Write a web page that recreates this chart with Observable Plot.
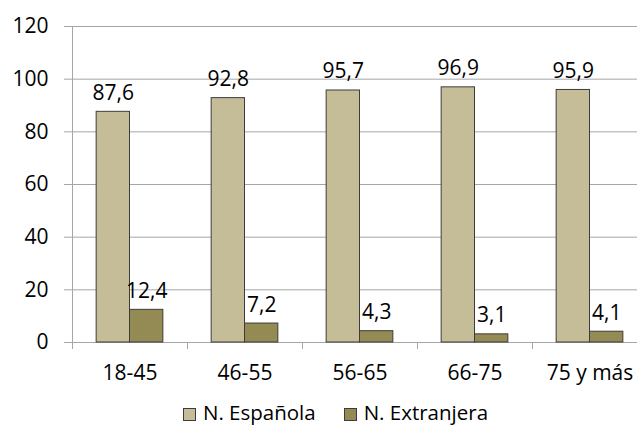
<!DOCTYPE html>
<html>
<head>
<meta charset="utf-8">
<script src="https://cdn.jsdelivr.net/npm/d3@7"></script>
<script src="https://cdn.jsdelivr.net/npm/@observablehq/plot@0.6"></script>
<style>
  html, body { margin: 0; padding: 0; background: #fff; overflow: hidden; }
  body { font-family: "Open Sans", sans-serif; color: #000; width: 637px; height: 425px; }
  .legend { display: flex; justify-content: center; align-items: center; gap: 28px;
            padding-left: 34px; padding-top: 2px; height: 30px; font-size: 20.5px; line-height: 1; }
  .legend span.sw { display: inline-block; width: 11px; height: 11px; border: 1px solid #3c3c3c;
                    margin-right: 7px; vertical-align: -1px; }
</style>
</head>
<body>
<div id="chart"></div>
<script>
// Age groups and the share (%) of each nationality within them
const groups = ["18-45", "46-55", "56-65", "66-75", "75 y más"];
const series = ["N. Española", "N. Extranjera"];
const espanola = [87.6, 92.8, 95.7, 96.9, 95.9];
const extranjera = [12.4, 7.2, 4.3, 3.1, 4.1];
const yTicks = [0, 20, 40, 60, 80, 100, 120];
const colors = ["#c4bd97", "#948a54"];

const rows = groups.flatMap((g, i) => [
  {group: g, series: series[0], value: espanola[i]},
  {group: g, series: series[1], value: extranjera[i]}
]);

const W = 637, H = 395;
const mL = 72, mR = -10, mT = 26, mB = 53;
const step = (W - mL - mR) / groups.length;   // width of one age-group band
const barW = step * 0.29;                       // width of a single bar
const grid = "#a6a6a6";
const edge = "#3c3c3c";
const fs = 21;
const fmt = v => v.toFixed(1).replace(".", ",");

const sp = rows.filter(d => d.series === series[0]);
const ex = rows.filter(d => d.series === series[1]);

const chart = Plot.plot({
  width: W, height: H,
  marginLeft: mL, marginRight: mR, marginTop: mT, marginBottom: mB,
  style: {fontFamily: "Open Sans, sans-serif", fontSize: fs + "px", color: "#000", background: "#fff"},
  x: {domain: groups, padding: 0},
  y: {domain: [0, 120]},
  marks: [
    Plot.gridY(yTicks, {stroke: grid, strokeOpacity: 1}),
    Plot.axisY({ticks: yTicks, tickSize: 8, tickPadding: 16, stroke: grid, fill: "#000", fontSize: fs, label: null}),
    Plot.ruleX([groups[0]], {dx: -step / 2, stroke: grid}),
    Plot.ruleY([0], {stroke: grid}),
    Plot.axisX({tickSize: 7, tickFormat: () => "", dx: -step / 2, stroke: grid, label: null}),
    Plot.axisX({tickSize: 0, tickPadding: 23, fill: "#000", fontSize: fs, label: null}),
    Plot.barY(sp, {x: "group", y: "value", fill: colors[0], stroke: edge, strokeWidth: 1,
                   insetLeft: step / 2 - barW, insetRight: step / 2}),
    Plot.barY(ex, {x: "group", y: "value", fill: colors[1], stroke: edge, strokeWidth: 1,
                   insetLeft: step / 2, insetRight: step / 2 - barW}),
    Plot.text(sp, {x: "group", y: "value", text: d => fmt(d.value), dx: -barW / 2, dy: -12,
                   lineAnchor: "bottom", fill: "#000", fontSize: fs}),
    Plot.text(ex, {x: "group", y: "value", text: d => fmt(d.value), dx: barW / 2, dy: -12,
                   lineAnchor: "bottom", fill: "#000", fontSize: fs})
  ]
});
document.getElementById("chart").appendChild(chart);

// Legend below the chart
const legend = document.createElement("div");
legend.className = "legend";
series.forEach((s, i) => {
  const item = document.createElement("div");
  const sw = document.createElement("span");
  sw.className = "sw";
  sw.style.background = colors[i];
  item.appendChild(sw);
  item.appendChild(document.createTextNode(s));
  legend.appendChild(item);
});
document.getElementById("chart").appendChild(legend);
</script>
</body>
</html>
